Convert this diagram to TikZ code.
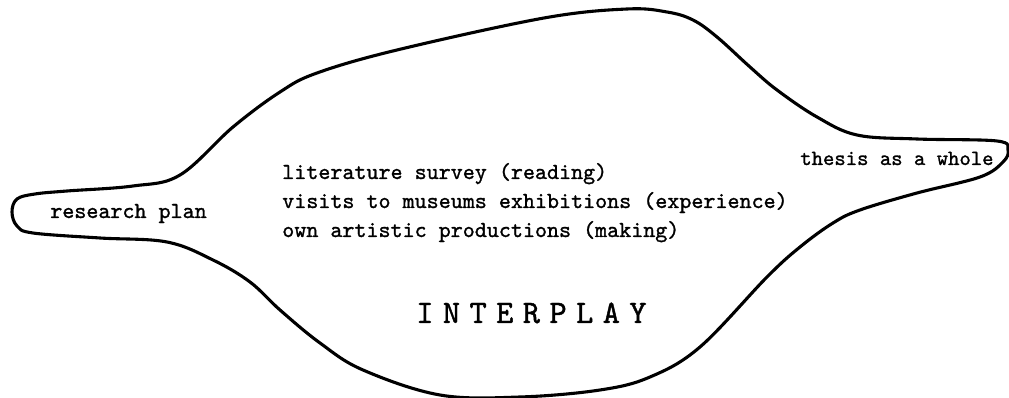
\documentclass[tikz,border=0pt]{standalone}
\usepackage{fontspec}
\newfontfamily\typett[FakeBold=1.2]{lmmono10-regular.otf}
\newfontfamily\spacedtt[LetterSpace=28.8, FakeBold=1.2]{lmmono10-regular.otf}

\begin{document}
\begin{tikzpicture}[
  x=0.025cm, y=-0.025cm,
  tttext/.style={font=\fontsize{16.3}{19}\typett, inner sep=0pt, anchor=base west},
  bigword/.style={font=\fontsize{23.3}{28}\spacedtt, inner sep=0pt, anchor=base west}
]
  \useasboundingbox (0,0) rectangle (1009,398);

  % the outline
  \draw[line width=2.2pt, line join=round] plot[smooth cycle, tension=0.6] coordinates {
    (12,212) (17,199) (35,194) (67,191) (133,186) (180,175)
    (233,127) (280,92) (317,73) (397,50) (544,18) (627,9) (667,12)
    (693,20) (717,37) (750,67) (777,90) (817,117) (857,135) (917,139)
    (997,141) (1008,150) (1003,162) (980,177) (917,193) (860,210)
    (833,223) (800,247) (767,277) (700,347) (650,377)
    (600,390) (520,397) (440,395) (363,370) (320,343) (280,310)
    (250,282) (213,260) (167,242) (100,238) (33,233) (17,226)};

  \node[tttext] (plan)   at (50,218)  {research plan};
  \node[tttext] (survey) at (282,179) {literature survey (reading)};
  \node[tttext] (visits) at (282,208) {visits to museums exhibitions (experience)};
  \node[tttext] (own)    at (282,237) {own artistic productions (making)};
  \node[tttext, font=\fontsize{15.4}{19}\typett] (thesis) at (800,165) {thesis as a whole};
  \node[bigword] (inter) at (416,323) {INTERPLAY};
\end{tikzpicture}
\end{document}
